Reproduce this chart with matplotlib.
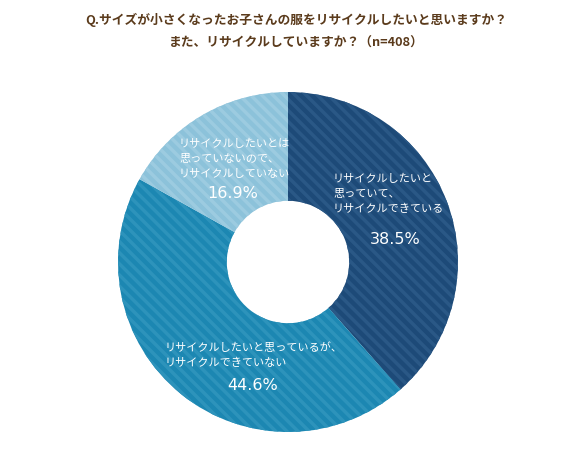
import matplotlib.pyplot as plt
import matplotlib as mpl

plt.rcParams['font.family'] = ['Noto Sans CJK JP', 'DejaVu Sans']
mpl.rcParams['hatch.linewidth'] = 2.5

title = 'Q.サイズが小さくなったお子さんの服をリサイクルしたいと思いますか？\nまた、リサイクルしていますか？（n=408）'
labels = ['リサイクルしたいと\n思っていて、\nリサイクルできている',
          'リサイクルしたいと思っているが、\nリサイクルできていない',
          'リサイクルしたいとは\n思っていないので、\nリサイクルしていない']
values = [38.5, 44.6, 16.9]
colors = ['#1d4a78', '#1c87b2', '#8cc2da']
hatch_colors = ['#2a5886', '#2d93bb', '#9ccbe0']

fig = plt.figure(figsize=(5.76, 4.57), dpi=100)
cx, cy, r = 288, 262, 170
W, H = 576, 457
ax = fig.add_axes([(cx - r) / W, (H - cy - r) / H, 2 * r / W, 2 * r / H])

wedges, _ = ax.pie(values, startangle=90, counterclock=False, colors=colors,
                   radius=1, wedgeprops=dict(width=0.64, linewidth=0))
for w, hc in zip(wedges, hatch_colors):
    w.set_hatch('\\\\\\')
    w.set_edgecolor(hc)
    w.set_linewidth(0)
ax.set_xlim(-1, 1)
ax.set_ylim(-1, 1)
ax.axis('off')


def d(px, py):
    return (px - cx) / r, (cy - py) / r


# label positions (pixels): first line centre-left, percent centre
text_pos = [(333, 177), (165, 345), (179, 142)]
pct_pos = [(395, 239), (253, 385), (233, 193)]
for lab, v, tp, pp in zip(labels, values, text_pos, pct_pos):
    x, y = d(tp[0], tp[1] - 3)
    ax.text(x, y, lab, color='white', fontsize=8, ha='left', va='top',
            linespacing=1.58)
    x, y = d(*pp)
    ax.text(x, y, f'{v}%', color='white', fontsize=11.5, ha='center',
            va='center', family='DejaVu Sans')

fig.text(296 / W, 1 - 13 / H, title, ha='center', va='top', fontsize=9.2,
         fontweight='bold', color='#5b3b1c', linespacing=2.0)

fig.savefig('out.png', dpi=100)
